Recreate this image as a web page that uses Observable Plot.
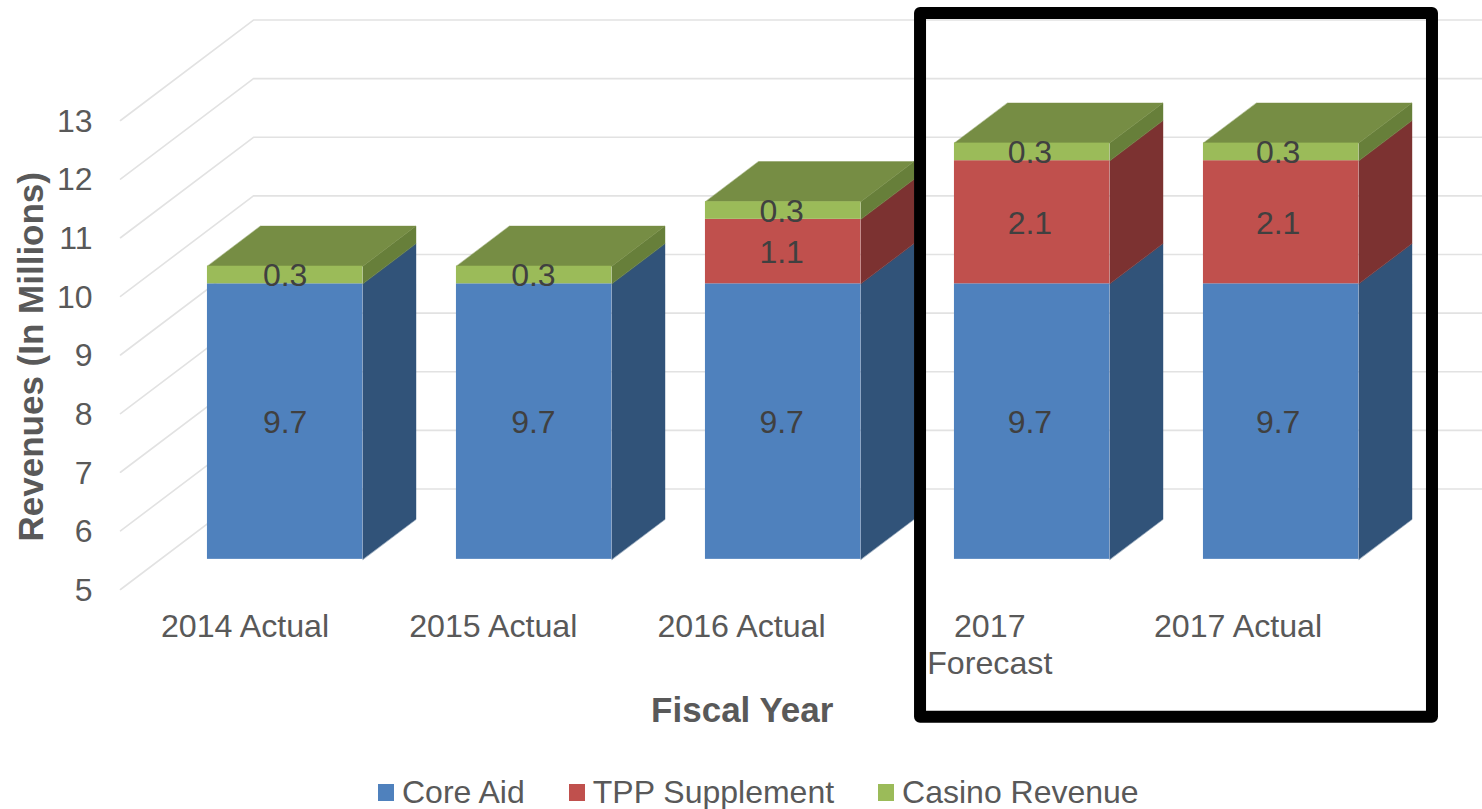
<!DOCTYPE html>
<html>
<head>
<meta charset="utf-8">
<script src="https://cdn.jsdelivr.net/npm/d3@7"></script>
<script src="https://cdn.jsdelivr.net/npm/@observablehq/plot@0.6"></script>
<style>
  html, body { margin: 0; padding: 0; background: #fff; overflow: hidden; }
  body { width: 1482px; height: 809px; font-family: "Liberation Sans", Arial, sans-serif; }
  #chart svg { display: block; }
  #legend { position: relative; height: 39px; display: flex; align-items: center; gap: 44px; padding-left: 378px; box-sizing: border-box; padding-top: 5px; font-size: 32px; line-height: 34px; color: #595959; }
  #legend .item { display: flex; align-items: center; gap: 8px; white-space: nowrap; }
  #legend .swatch { width: 16px; height: 17px; display: inline-block; }
</style>
</head>
<body>
<div id="chart"></div>
<div id="legend"></div>
<script>
// ---- data ----
const categories = ["2014 Actual", "2015 Actual", "2016 Actual", "2017\nForecast", "2017 Actual"];
const coreAid = [9.7, 9.7, 9.7, 9.7, 9.7];
const tppSupplement = [0, 0, 1.1, 2.1, 2.1];
const casinoRevenue = [0.3, 0.3, 0.3, 0.3, 0.3];
const yTicks = [5, 6, 7, 8, 9, 10, 11, 12, 13];
const seriesNames = ["Core Aid", "TPP Supplement", "Casino Revenue"];
const seriesValues = [coreAid, tppSupplement, casinoRevenue];
const frontColors = ["#4f81bd", "#c0504d", "#9bbb59"];
const sideColors = ["#315379", "#7c3231", "#677f3a"];
const topColor = "#768d44";
const highlightX = [3.213, 5.269];   // the box round both 2017 columns
const highlightY = [2.822, 14.825];

// ---- oblique projection of the 3-D scene, in axis units ----
const baseValue = 5;
const wallShiftX = 0.534;  // x units from the front of the floor to the back wall
const wallShiftY = 1.714;  // value units from the front of the floor to the back wall
const barInset = 0.189, barWidth = 0.624, depthFront = 0.3, depthBack = 0.7;
const labelStep = 0.997;   // the reference's labels are spaced a touch tighter than its columns
const project = (x, v, d) => ({x: x + d * wallShiftX, y: v + d * wallShiftY});

// ---- build faces ----
const fronts = [], polys = [], labels = [];
categories.forEach((c, i) => {
  const xa = i + barInset, xb = xa + barWidth;
  let cumulative = 0, topOfBar = baseValue;
  seriesValues.forEach((vals, s) => {
    const v = vals[i];
    if (!v) return;
    const lo = s === 0 ? baseValue : cumulative;
    const hi = cumulative + v;
    cumulative = hi;
    const a = project(xa, lo, depthFront), b = project(xb, hi, depthFront);
    fronts.push({x1: a.x, x2: b.x, y1: a.y, y2: b.y, color: frontColors[s]});
    labels.push({...project(i * labelStep + barInset + barWidth / 2, (lo + hi) / 2, depthFront), text: v.toFixed(1)});
    const face = `side-${i}-${s}`;
    [[xb, lo, depthFront], [xb, hi, depthFront], [xb, hi, depthBack], [xb, lo, depthBack]].forEach(p =>
      polys.push({...project(...p), face, color: sideColors[s]}));
    topOfBar = hi;
  });
  const face = `top-${i}`;
  [[xa, topOfBar, depthFront], [xb, topOfBar, depthFront], [xb, topOfBar, depthBack], [xa, topOfBar, depthBack]].forEach(p =>
    polys.push({...project(...p), face, color: topColor}));
});

// gridlines: side wall diagonal and back wall horizontal
const grid = yTicks.flatMap(v => [
  {...project(0, v, 0), v},
  {...project(0, v, 1), v},
  {...project(categories.length, v, 1), v}
]);

const xTicks = categories.map((c, i) => i * labelStep + 0.5);

const plot = Plot.plot({
  width: 1482,
  height: 770,
  marginLeft: 120,
  marginRight: 117,
  marginTop: 120,
  marginBottom: 181,
  style: {fontFamily: "'Liberation Sans', Arial, sans-serif", background: "#fff"},
  x: {domain: [0, categories.length], axis: null},
  y: {domain: [5, 13], axis: null},
  marks: [
    Plot.line(grid, {x: "x", y: "y", z: "v", stroke: "#e2e2e2", strokeWidth: 1.6}),
    Plot.line(polys, {x: "x", y: "y", z: "face", fill: "color", stroke: "color", strokeWidth: 0.4, curve: "linear-closed"}),
    Plot.rect(fronts, {x1: "x1", x2: "x2", y1: "y1", y2: "y2", fill: "color", inset: 0}),
    Plot.text(labels, {x: "x", y: "y", text: "text", fontSize: 32, fill: "#404040", textAnchor: "middle", lineAnchor: "middle", dy: 1}),
    Plot.axisY(yTicks, {anchor: "left", tickSize: 0, tickPadding: 28, fontSize: 32, fill: "#595959", label: null, dy: 1, tickFormat: d3.format("d")}),
    Plot.axisX(xTicks, {anchor: "bottom", tickSize: 0, tickPadding: 20, fontSize: 32.2, fill: "#595959", label: null, lineHeight: 1.15, tickFormat: t => categories[Math.round((t - 0.5) / labelStep)], dy: 1}),
    Plot.text(["Fiscal Year"], {x: 2.497, y: 2.936, text: d => d, fontSize: 35, fontWeight: "bold", fill: "#595959", textAnchor: "middle", lineAnchor: "middle"}),
    Plot.text(["Revenues (In Millions)"], {x: -0.357, y: 8.97, text: d => d, fontSize: 35, fontWeight: "bold", fill: "#595959", rotate: -90, textAnchor: "middle", lineAnchor: "middle"}),
    Plot.rect([{}], {x1: () => highlightX[0], x2: () => highlightX[1], y1: () => highlightY[0], y2: () => highlightY[1], fill: "none", stroke: "#000", strokeWidth: 12, strokeLinejoin: "round"})
  ]
});
document.getElementById("chart").appendChild(plot);

const legend = d3.select("#legend");
seriesNames.forEach((name, s) => {
  const item = legend.append("div").attr("class", "item");
  item.append("span").attr("class", "swatch").style("background", frontColors[s]);
  item.append("span").text(name);
});
</script>
</body>
</html>
